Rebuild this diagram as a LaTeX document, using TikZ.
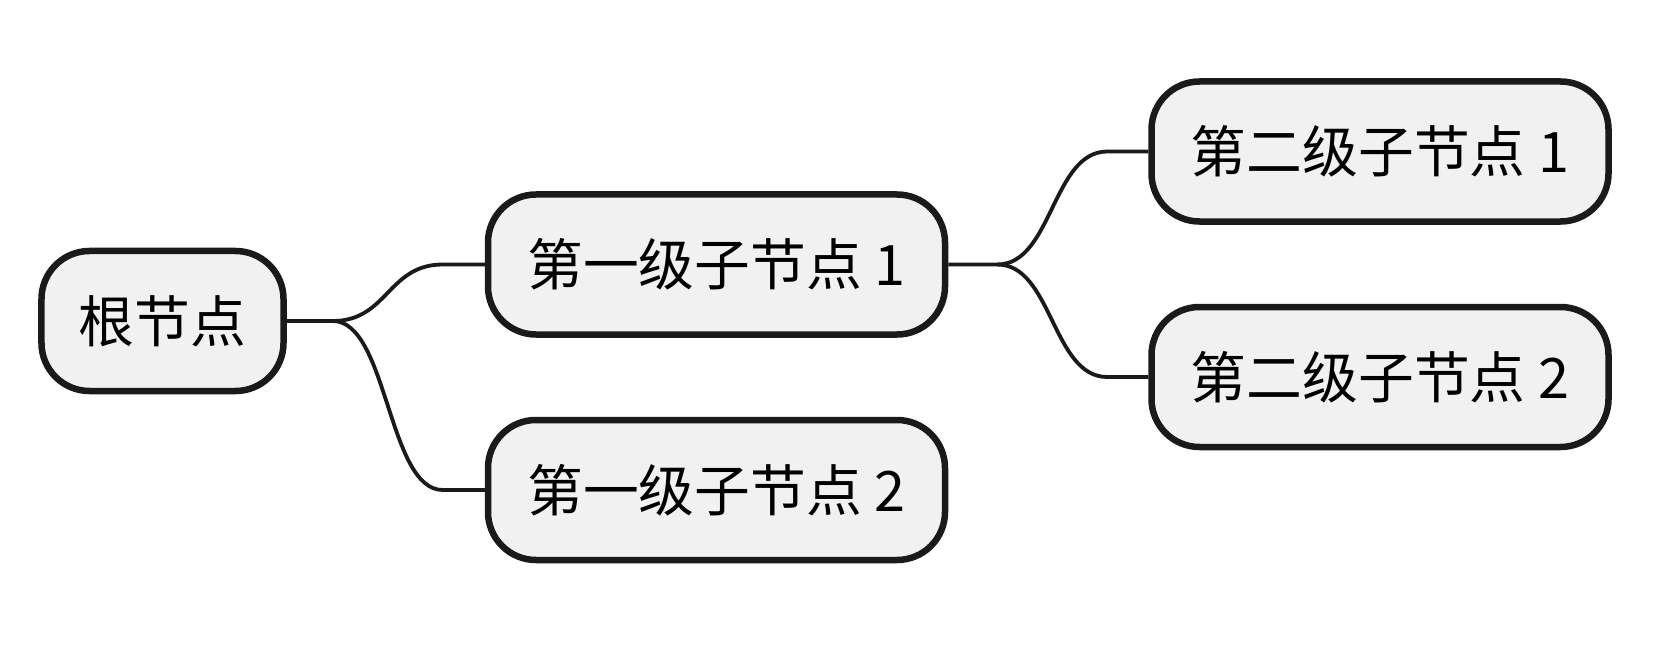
\documentclass[tikz,border=0pt]{standalone}
\usepackage{fontspec}
\setmainfont{Noto Sans CJK SC}
\usetikzlibrary{calc}
\definecolor{linec}{HTML}{1A1A1A}
\definecolor{boxfill}{HTML}{F1F1F1}
\tikzset{
  box/.style={draw=linec, fill=boxfill, line width=6.5bp, rounded corners=48bp,
    minimum height=140bp, inner sep=0pt, text=black,
    font=\fontsize{56}{62}\selectfont},
  rootbox/.style={box, minimum width=242bp},
  childbox/.style={box, minimum width=457bp},
  conn/.style={draw=linec, line width=3.8bp}
}
\begin{document}
\begin{tikzpicture}[x=1bp,y=-1bp]
\useasboundingbox (0,0) rectangle (1657,646);
\node[rootbox] (root) at (162.5,321) {根节点};
\node[childbox] (a1) at (716.5,264.5) {第一级子节点 1};
\node[childbox] (a2) at (716.5,490) {第一级子节点 2};
\node[childbox] (b1) at (1380,151.5) {第二级子节点 1};
\node[childbox] (b2) at (1380,377) {第二级子节点 2};
% root -> level 1
\coordinate (r0) at ($(root.east)+(46,0)$);
\coordinate (r1) at ($(a1.west)+(-42,0)$);
\coordinate (r2) at ($(a2.west)+(-42,0)$);
\draw[conn] (root.east) -- (r0) .. controls ($(r0)+(55,0)$) and ($(r1)+(-55,0)$) .. (r1) -- (a1.west);
\draw[conn] (r0) .. controls ($(r0)+(55,0)$) and ($(r2)+(-55,0)$) .. (r2) -- (a2.west);
% level 1 -> level 2
\coordinate (s0) at ($(a1.east)+(49,0)$);
\coordinate (s1) at ($(b1.west)+(-41,0)$);
\coordinate (s2) at ($(b2.west)+(-41,0)$);
\draw[conn] (a1.east) -- (s0) .. controls ($(s0)+(55,0)$) and ($(s1)+(-55,0)$) .. (s1) -- (b1.west);
\draw[conn] (s0) .. controls ($(s0)+(55,0)$) and ($(s2)+(-55,0)$) .. (s2) -- (b2.west);
\end{tikzpicture}
\end{document}
